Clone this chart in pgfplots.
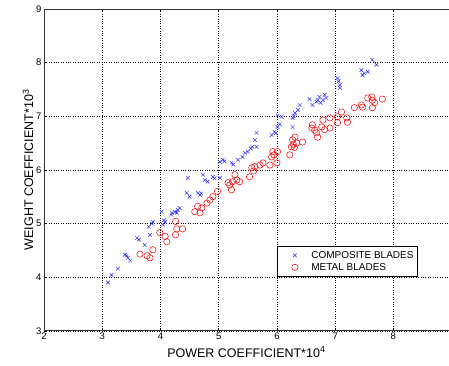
\documentclass[border=0pt]{standalone}
\usepackage{fontspec}
\setmainfont{Liberation Sans}
\usepackage{pgfplots}
\pgfplotsset{compat=1.18}
\begin{document}
\begin{tikzpicture}
\begin{axis}[
  scale only axis,
  width=405pt, height=322pt,
  xmin=2, xmax=8.95, ymin=3, ymax=9,
  xtick={2,3,4,5,6,7,8}, ytick={3,4,5,6,7,8,9},
  axis x line*=box, axis y line*=left,
  xtick pos=both, ytick pos=left,
  tick align=inside,
  major tick length=3pt,
  tick style={black, line width=0.4pt},
  axis line style={line width=0.6pt, black!80},
  grid=major,
  major grid style={black, dotted, line width=0.5pt},
  ticklabel style={font=\fontsize{9.5}{10}\selectfont},
  /pgf/number format/assume math mode=true,
  xticklabel style={yshift=1pt},
  yticklabel style={xshift=1pt},
  xlabel={POWER COEFFICIENT*10\textsuperscript{4}},
  ylabel={WEIGHT COEFFICIENT*10\textsuperscript{3}},
  label style={font=\fontsize{12.5}{13}\selectfont},
  xlabel style={yshift=0pt},
  ylabel style={yshift=-4pt},
  legend style={at={(0.575,0.264)}, anchor=north west, draw=black, line width=0.6pt,
    font=\fontsize{10}{11}\selectfont, inner xsep=2pt, inner ysep=3pt, row sep=-0.5pt,
    legend cell align=left},
  legend image code/.code={\path (0,0) (1.05cm,0); \draw[#1] plot coordinates {(0.55cm,0cm)};},
]
\addplot[only marks, mark=x, mark size=2.6pt, blue!85, line width=0.45pt] coordinates {
(3.10,3.90) (3.16,4.04) (3.27,4.16) (3.39,4.42) (3.44,4.36) (3.48,4.31)
(3.60,4.73) (3.63,4.70) (3.73,4.60) (3.82,4.79) (3.80,4.94) (3.87,5.03)
(4.02,5.22) (4.04,4.98) (4.08,5.03) (4.19,5.16) (4.25,5.22) (4.30,5.25)
(4.33,5.29) (4.45,5.57) (4.47,5.85) (4.50,5.50) (4.64,5.57) (4.68,5.53)
(4.73,5.91) (4.76,5.81) (4.81,5.78) (4.90,5.87) (5.02,5.85) (5.02,6.15)
(5.07,6.19) (5.22,6.13) (5.33,6.19) (5.41,6.24) (5.45,6.32) (5.50,6.34)
(5.58,6.43) (5.65,6.43) (5.62,6.56) (5.65,6.69) (5.91,6.65) (5.96,6.71)
(6.01,6.80) (6.01,7.02) (6.08,6.99) (6.27,6.80) (6.27,6.97) (6.31,7.06)
(6.36,7.12) (6.39,7.21) (6.56,7.32) (6.61,7.21) (6.68,7.27) (6.73,7.36)
(6.79,7.30) (6.82,7.40) (7.04,7.71) (7.08,7.58) (7.08,7.53) (7.45,7.86)
(7.47,7.77) (7.56,7.83) (7.64,8.05) (7.71,7.96)
(3.42,4.40) (3.85,5.00) (4.06,5.06) (4.28,5.20) (4.70,5.56) (4.93,5.84)
(5.10,6.16) (5.25,6.10) (5.55,6.40) (5.98,6.68) (6.05,6.85) (6.29,7.00)
(6.70,7.30) (6.75,7.25) (6.85,7.34) (7.06,7.65) (7.50,7.80) (4.20,5.20)
};
\addlegendentry{COMPOSITE BLADES}
\addplot[only marks, mark=o, mark size=3.2pt, red!95!black, line width=0.5pt] coordinates {
(3.65,4.43) (3.77,4.40) (3.82,4.36) (3.87,4.51) (3.99,4.83) (4.08,4.76)
(4.11,4.66) (4.26,5.04) (4.28,4.90) (4.38,4.90) (4.26,4.79) (4.59,5.22)
(4.64,5.32) (4.71,5.29) (4.68,5.20) (4.80,5.38) (4.85,5.44) (4.90,5.50)
(4.98,5.60) (5.16,5.76) (5.22,5.63) (5.24,5.78) (5.28,5.91) (5.31,5.81)
(5.36,5.78) (5.53,5.87) (5.57,6.04) (5.62,6.06) (5.71,6.09) (5.76,6.13)
(5.88,6.09) (5.91,6.24) (5.93,6.34) (6.01,6.34) (6.00,6.13) (6.22,6.28)
(6.25,6.43) (6.27,6.56) (6.31,6.61) (6.34,6.50) (6.44,6.52) (6.60,6.78)
(6.61,6.84) (6.68,6.69) (6.70,6.61) (6.77,6.80) (6.79,6.93) (6.82,6.75)
(6.91,6.78) (6.91,6.97) (7.04,6.88) (7.04,6.99) (7.11,7.08) (7.20,6.97)
(7.21,6.89) (7.33,7.16) (7.45,7.21) (7.47,7.17) (7.56,7.34) (7.63,7.36)
(7.64,7.30) (7.64,7.16) (7.68,7.25) (7.81,7.32)
(5.19,5.72) (5.60,5.98) (6.28,6.48) (6.65,6.74) (6.30,6.42) (5.95,6.28)
};
\addlegendentry{METAL BLADES}
\end{axis}
\path ([shift={(-44pt,-35pt)}]current axis.south west) rectangle ([shift={(0pt,9pt)}]current axis.north east);
\end{tikzpicture}
\end{document}
